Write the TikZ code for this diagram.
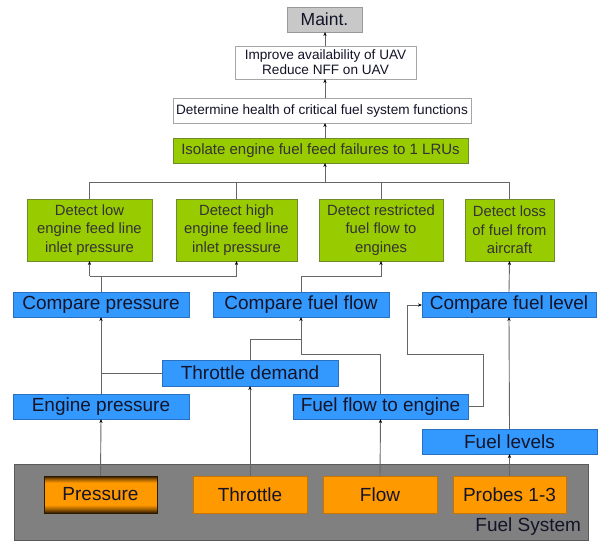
\documentclass[tikz,border=0pt]{standalone}
\usepackage{fontspec}
\setmainfont{Liberation Sans}
\usetikzlibrary{arrows.meta}
\definecolor{greenfill}{HTML}{99CC00}
\definecolor{greenline}{HTML}{6E8A2A}
\definecolor{bluefill}{HTML}{3399FF}
\definecolor{blueline}{HTML}{2A70C0}
\definecolor{orangefill}{HTML}{FF9900}
\definecolor{orangeline}{HTML}{C87400}
\definecolor{sysfill}{HTML}{808080}
\definecolor{sysline}{HTML}{5A5A5A}
\definecolor{maintfill}{HTML}{C8C8C8}
\definecolor{wireclr}{HTML}{666666}
\definecolor{txtclr}{HTML}{141428}
\definecolor{pdark}{HTML}{2A1800}
\definecolor{pbrown}{HTML}{9A5A00}
\pgfdeclareverticalshading{metalshade}{100bp}{color(0bp)=(pdark); color(25bp)=(pdark); color(30bp)=(pbrown); color(36bp)=(orangefill); color(66bp)=(orangefill); color(71bp)=(pbrown); color(75bp)=(pdark); color(100bp)=(pdark)}
\begin{document}
\begin{tikzpicture}[x=1pt,y=-1pt,
  every node/.style={inner sep=0pt, outer sep=0pt, text=txtclr, align=center},
  whitebox/.style={draw=gray!70, fill=white, line width=0.8pt},
  maintbox/.style={draw=gray!80, fill=maintfill, line width=0.8pt, font=\fontsize{17.5}{20}\selectfont},
  greenbox/.style={draw=greenline, fill=greenfill, line width=0.8pt, minimum height=62pt, font=\fontsize{14.8}{18.3}\selectfont, text=black!80},
  bluebox/.style={draw=blueline, fill=bluefill, line width=0.8pt, minimum height=25pt, font=\fontsize{19}{22}\selectfont},
  orangebox/.style={draw=orangeline, fill=orangefill, line width=0.8pt, minimum height=37pt, font=\fontsize{19}{22}\selectfont},
  sysbox/.style={draw=sysline, fill=sysfill, line width=1pt},
  wire/.style={draw=wireclr, line width=0.9pt},
  arr/.style={wire, -{Stealth[length=4pt,width=3.2pt,color=black,fill=black]}}
]
\useasboundingbox (0,0) rectangle (599,541);

% Fuel system background
\node[sysbox, minimum width=574pt, minimum height=76pt] (fuelsys) at (301,502) {};
\node[anchor=base east, font=\fontsize{19}{22}\selectfont] (fslabel) at (581,531) {Fuel System};

% top chain
\node[maintbox, minimum width=75pt, minimum height=25pt] (maint) at (324.5,19.5) {Maint.};
\node[whitebox, minimum width=181pt, minimum height=33pt, font=\fontsize{13.6}{14.8}\selectfont] (improve) at (325.5,62.5) {Improve availability of UAV\\Reduce NFF on UAV};
\node[whitebox, minimum width=298pt, minimum height=25pt, font=\fontsize{13.6}{15}\selectfont] (determine) at (322,110.5) {Determine health of critical fuel system functions};
\node[greenbox, minimum width=295pt, minimum height=25pt, font=\fontsize{15}{17}\selectfont] (isolate) at (320.5,150.5) {Isolate engine fuel feed failures to 1 LRUs};

% green row
\node[greenbox, minimum width=125pt] (low) at (89.5,230) {Detect low\\engine feed line\\inlet pressure};
\node[greenbox, minimum width=121pt] (high) at (236.5,230) {Detect high\\engine feed line\\inlet pressure};
\node[greenbox, minimum width=124pt] (restr) at (381,230) {Detect restricted\\fuel flow to\\engines};
\node[greenbox, minimum width=89pt] (loss) at (509.5,230) {Detect loss\\of fuel from\\aircraft};

% blue boxes
\node[bluebox, minimum width=176pt] (cpres) at (101,304.5) {Compare pressure};
\node[bluebox, minimum width=176pt] (cflow) at (301,304.5) {Compare fuel flow};
\node[bluebox, minimum width=174pt] (clevel) at (509,304.5) {Compare fuel level};
\node[bluebox, minimum width=176pt, minimum height=26pt] (tdem) at (250,373) {Throttle demand};
\node[bluebox, minimum width=176pt] (epres) at (101,406.5) {Engine pressure};
\node[bluebox, minimum width=175pt] (ffe) at (380.5,406.5) {Fuel flow to engine};
\node[bluebox, minimum width=175pt] (flev) at (509.5,441.5) {Fuel levels};

% orange sensors
\node[orangebox, shading=metalshade, draw=pdark, minimum width=113pt] (pres) at (100.5,494.5) {Pressure};
\node[orangebox, minimum width=114pt] (thr) at (250,494.5) {Throttle};
\node[orangebox, minimum width=114pt] (flow) at (380,494.5) {Flow};
\node[orangebox, minimum width=113pt] (probes) at (509.5,494.5) {Probes 1-3};

% helper coordinates
\coordinate (spine) at (325,0);
\coordinate (bar) at (0,182);
\coordinate (j1) at (0,276);
\coordinate (k1) at (0,339);
\coordinate (k2) at (0,354);
\coordinate (r1) at (483,354);
\coordinate (r2) at (407,305);

% top connectors
\draw[arr] (improve.north -| spine) -- (maint.south -| spine);
\draw[arr] (determine.north -| spine) -- (improve.south -| spine);
\draw[arr] (isolate.north -| spine) -- (determine.south -| spine);
\draw[arr] (bar -| spine) -- (isolate.south -| spine);
\draw[wire] (low.north) -- (low.north |- bar) -- (loss.north |- bar) -- (loss.north);
\draw[wire] (high.north) -- (high.north |- bar);
\draw[wire] (restr.north) -- (restr.north |- bar);

% compare -> detect
\draw[wire] (cpres.north) -- (cpres.north |- j1);
\draw[wire] (low.south |- j1) -- (high.south |- j1);
\draw[arr] (low.south |- j1) -- (low.south);
\draw[arr] (high.south |- j1) -- (high.south);
\draw[arr] (cflow.north) -- (cflow.north |- j1) -- (restr.south |- j1) -- (restr.south);
\draw[arr] (clevel.north) -- (loss.south);

% lower connectors
\draw[arr] (pres.north) -- (epres.south);
\draw[arr] (epres.north) -- (cpres.south);
\draw[wire] (tdem.west) -- (tdem.west -| epres.north);
\draw[arr] (thr.north) -- (tdem.south);
\draw[wire] (tdem.north) -- (tdem.north |- k1) -- (cflow.south |- k1);
\draw[arr] (ffe.north) -- (ffe.north |- k2) -- (cflow.south |- k2) -- (cflow.south);
\draw[arr] (flow.north) -- (ffe.south);
\draw[arr] (ffe.east) -| (r1) -| (r2) -- (clevel.west |- r2);
\draw[arr] (probes.north) -- (flev.south);
\draw[arr] (flev.north) -- (clevel.south);
\end{tikzpicture}
\end{document}
